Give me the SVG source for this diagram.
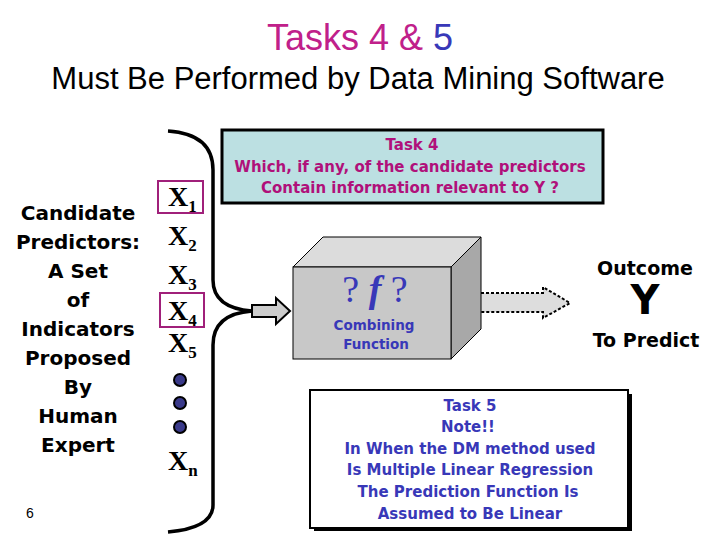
<svg xmlns="http://www.w3.org/2000/svg" width="720" height="540" viewBox="0 0 720 540">
<style>
.s{font-family:"Liberation Sans",Arial,sans-serif}
.b{font-family:"DejaVu Sans",Verdana,sans-serif;font-weight:bold}
.x{font-family:"Liberation Serif","Times New Roman",serif;font-weight:bold;font-size:28px}
.sub{font-size:17px}
.lbl{font-size:20px;fill:#000}
</style>
<rect width="720" height="540" fill="#fff"/>
<text class="s" x="360" y="50" font-size="36" text-anchor="middle"><tspan fill="#c0208a">Tasks  4 &amp; </tspan><tspan fill="#3838b8">5</tspan></text>
<text class="s" x="358" y="89" font-size="31" text-anchor="middle" fill="#000">Must Be Performed by Data Mining Software</text>
<g id="candidates" class="b lbl" text-anchor="middle">
<text x="78" y="220">Candidate</text><text x="78" y="249">Predictors:</text><text x="78" y="278">A Set</text><text x="78" y="307">of</text><text x="78" y="336">Indicators</text><text x="78" y="365">Proposed</text><text x="78" y="394">By</text><text x="78" y="423">Human</text><text x="78" y="452">Expert</text>
</g>
<text class="s" x="30" y="518" font-size="14" text-anchor="middle">6</text>
<g id="predictors">
<rect x="158" y="181" width="45" height="32" fill="none" stroke="#a0207a" stroke-width="2"/>
<rect x="160" y="293" width="44" height="34" fill="none" stroke="#a0207a" stroke-width="2"/>
<text class="x" x="168" y="206">X<tspan class="sub" dy="6">1</tspan></text>
<text class="x" x="168" y="245">X<tspan class="sub" dy="6">2</tspan></text>
<text class="x" x="168" y="284">X<tspan class="sub" dy="6">3</tspan></text>
<text class="x" x="168" y="320">X<tspan class="sub" dy="6">4</tspan></text>
<text class="x" x="168" y="352">X<tspan class="sub" dy="6">5</tspan></text>
<g fill="#3a3a8a" stroke="#000" stroke-width="2"><circle cx="180" cy="380" r="6"/><circle cx="180" cy="403" r="6"/><circle cx="180" cy="427" r="6"/></g>
<text class="x" x="168" y="470">X<tspan class="sub" dy="6">n</tspan></text>
</g>
<g id="connectors" stroke="#000" fill="none">
<path d="M168,131 Q213,134 213,170 L213,280 Q213,308 252,311 Q213,314 213,345 L213,505 Q213,528 168,532" stroke-width="3.5"/>
<path d="M252,305 L276,305 L276,298 L290,311 L276,324 L276,317 L252,317 Z" fill="#cccccc" stroke-width="2"/>
<path d="M466,293 L543,293 L543,287 L570,303 L543,318 L543,312 L466,312 Z" fill="#dddddd" stroke-width="2" stroke-dasharray="3,2"/>
</g>
<g id="task4">
<rect x="222" y="130" width="381" height="73" fill="#bce0e2" stroke="#000" stroke-width="3"/>
<g class="b" font-size="15" text-anchor="middle" fill="#b0107a"><text x="412" y="150">Task 4</text><text x="410" y="172">Which, if any, of the candidate predictors</text><text x="410" y="193">Contain information relevant to Y ?</text></g>
</g>
<g id="function" stroke="#000" stroke-width="1">
<path d="M293,267 L323,237 L481,237 L451,267 Z" fill="#dcdcdc"/>
<path d="M451,267 L481,237 L481,329 L451,359 Z" fill="#a8a8a8"/>
<rect x="293" y="267" width="158" height="92" fill="#c8c8c8"/>
<text x="375" y="302" font-family="Liberation Serif,serif" font-size="38" text-anchor="middle" fill="#3838b8" stroke="none">? <tspan font-weight="bold" font-style="italic">f</tspan> ?</text>
<g class="b" font-size="13.5" text-anchor="middle" fill="#3838b8" stroke="none"><text x="374" y="330">Combining</text><text x="376" y="349">Function</text></g>
</g>
<g id="outcome" class="b" text-anchor="middle" fill="#000">
<text x="645" y="275" font-size="19">Outcome</text>
<text x="645" y="314" font-size="40">Y</text>
<text x="646" y="347" font-size="19">To Predict</text>
</g>
<g id="task5">
<rect x="314" y="394" width="318" height="137" fill="#000"/>
<rect x="310" y="390" width="318" height="138" fill="#fff" stroke="#000" stroke-width="2"/>
<g class="b" font-size="15" text-anchor="middle" fill="#3838b8"><text x="470" y="411">Task 5</text><text x="468" y="432">Note!!</text><text x="470" y="454">In When the DM method used</text><text x="470" y="475">Is Multiple Linear Regression</text><text x="468" y="497">The Prediction Function Is</text><text x="470" y="519">Assumed to Be Linear</text></g>
</g>
</svg>
